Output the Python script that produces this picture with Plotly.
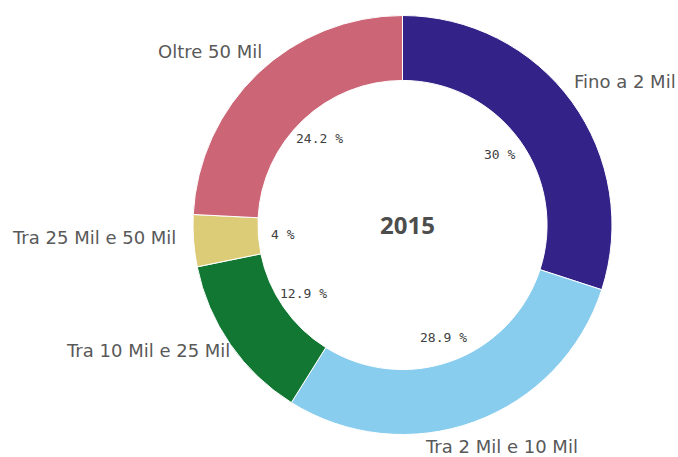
import math
import plotly.graph_objects as go

categories = ["Fino a 2 Mil", "Tra 2 Mil e 10 Mil", "Tra 10 Mil e 25 Mil", "Tra 25 Mil e 50 Mil", "Oltre 50 Mil"]
values = [30, 28.9, 12.9, 4, 24.2]
pct_labels = ["30 %", "28.9 %", "12.9 %", "4 %", "24.2 %"]
colors = ["#332288", "#88CCEE", "#117733", "#DDCC77", "#CC6677"]
center_title = "2015"

# label styling: text anchor side and pixel nudge from the slice's outer mid-point
label_xanchor = ["left", "center", "right", "right", "right"]
label_nudge = [(0, -20), (27, 25), (2, 6), (-16, -3), (6, -22)]

W, H = 678, 457
ml, mr, mt, mb = 193, 66, 15, 22
pw, ph = W - ml - mr, H - mt - mb
R = min(pw, ph) / 2

fig = go.Figure(go.Pie(
    labels=categories,
    values=values,
    sort=False,
    direction="clockwise",
    rotation=0,
    hole=0.69,
    marker=dict(colors=colors, line=dict(color="white", width=1)),
    textinfo="none",
    showlegend=False,
    hoverinfo="label+percent",
))

total = sum(values)
cum = 0
r_lab = 120
annotations = []
for i, (v, t, cat) in enumerate(zip(values, pct_labels, categories)):
    mid = (cum + v / 2) / total * 2 * math.pi
    cum += v
    # percentage inside the hole
    annotations.append(dict(
        x=0.5 + r_lab * math.sin(mid) / pw,
        y=0.5 + r_lab * math.cos(mid) / ph,
        xref="paper", yref="paper", text=t, showarrow=False,
        xanchor="center", yanchor="middle",
        font=dict(family="DejaVu Sans Mono, monospace", size=13, color="#404040"),
    ))
    # category label outside the ring
    dx, dy = label_nudge[i]
    annotations.append(dict(
        x=0.5 + (R * math.sin(mid) + dx) / pw,
        y=0.5 + (R * math.cos(mid) - dy) / ph,
        xref="paper", yref="paper", text=cat, showarrow=False,
        xanchor=label_xanchor[i], yanchor="middle",
        font=dict(family="DejaVu Sans, sans-serif", size=18, color="#595959"),
    ))
annotations.append(dict(
    x=0.5 + 5 / pw, y=0.5 + 1 / ph, xref="paper", yref="paper", text="<b>" + center_title + "</b>",
    xanchor="center", yanchor="middle",
    showarrow=False, font=dict(family="Open Sans, sans-serif", size=24, color="#4d4d4d"),
))

fig.update_layout(
    width=W, height=H,
    margin=dict(l=ml, r=mr, t=mt, b=mb),
    paper_bgcolor="white", plot_bgcolor="white",
    annotations=annotations,
)

fig.write_html("out.html", config={"displayModeBar": False},
               post_script="document.body.style.margin='0';")
